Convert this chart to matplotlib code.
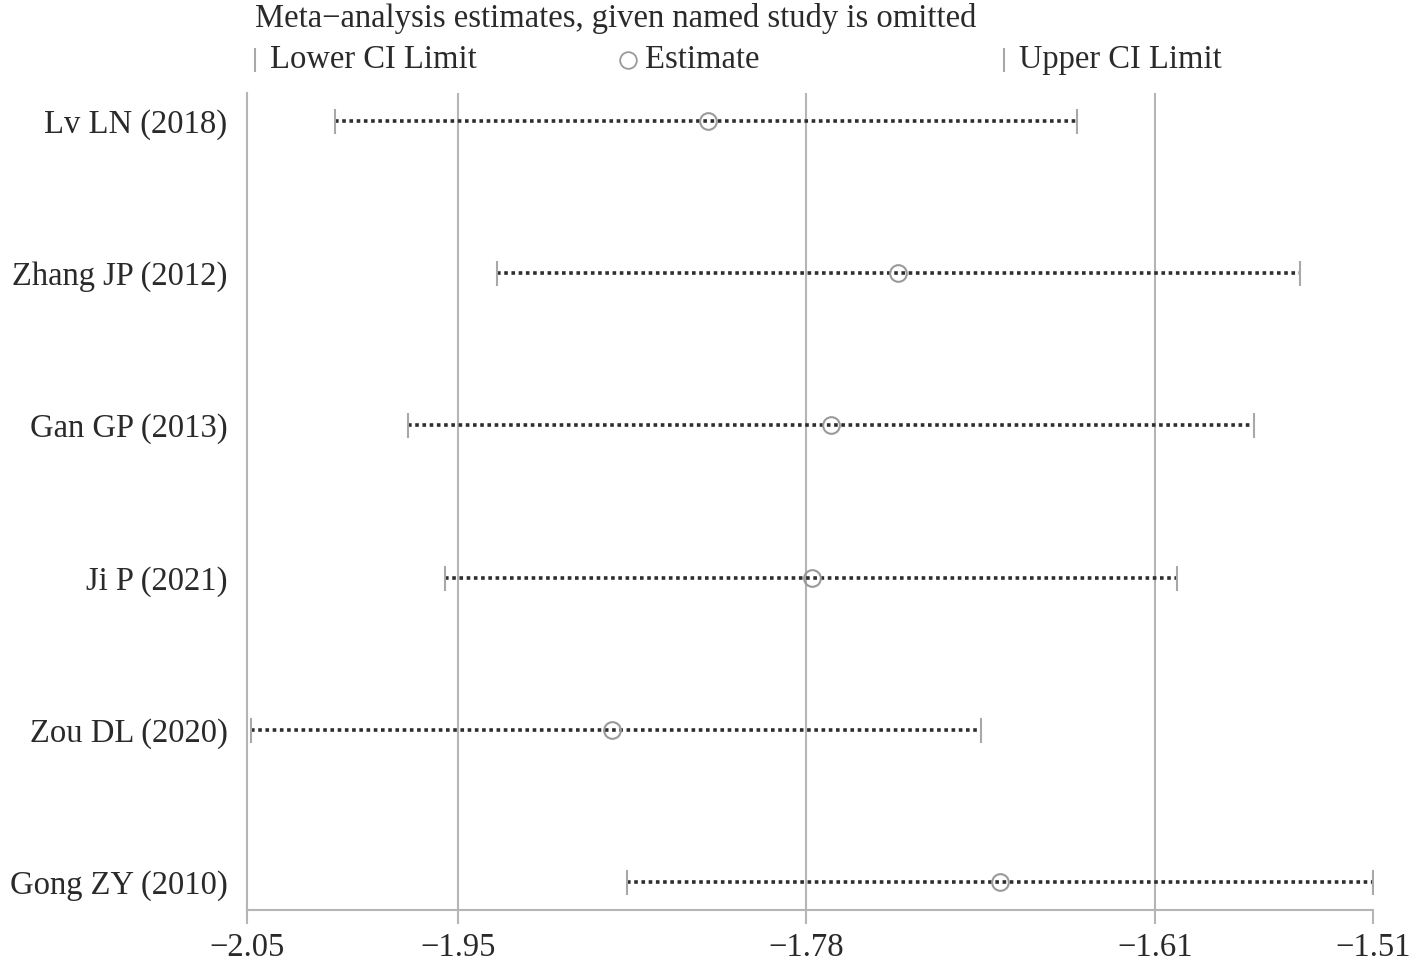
import matplotlib.pyplot as plt
from matplotlib.lines import Line2D

plt.rcParams['font.family'] = ['Liberation Serif', 'DejaVu Serif']

studies = ['Lv LN (2018)', 'Zhang JP (2012)', 'Gan GP (2013)',
           'Ji P (2021)', 'Zou DL (2020)', 'Gong ZY (2010)']
estimate = [-1.829, -1.738, -1.770, -1.779, -1.875, -1.689]
lower_ci = [-2.008, -1.930, -1.973, -1.955, -2.048, -1.868]
upper_ci = [-1.652, -1.545, -1.567, -1.604, -1.698, -1.510]

tick_pos = [-2.05, -1.949, -1.782, -1.6145, -1.51]
tick_lab = ['\u22122.05', '\u22121.95', '\u22121.78', '\u22121.61', '\u22121.51']

W, H = 1417, 963
fs = 23.5
txt = '#2a2a2a'
fig = plt.figure(figsize=(W / 100, H / 100), dpi=100)
ax = fig.add_axes([247 / W, 1 - 910 / H, (1373 - 247) / W, (910 - 93) / H])

grey = '#b5b5b5'
for xv in tick_pos[1:4]:
    ax.axvline(xv, color=grey, lw=1.5, zorder=0)

ys = list(range(len(studies)))
for y, lo, hi, est in zip(ys, lower_ci, upper_ci, estimate):
    ax.plot([lo, hi], [y, y], color='#2e2e2e', lw=2.6,
            linestyle=(0, (1, 1.0)), solid_capstyle='butt', zorder=2)
    ax.plot([lo, hi], [y, y], ls='none', marker='|', ms=18, mew=1.5,
            color='#a8a8a8', zorder=3)
    ax.plot(est, y, ls='none', marker='o', ms=12, mfc='none', mew=1.5,
            mec='#9a9a9a', zorder=4)

ax.set_xlim(-2.05, -1.51)
ax.set_ylim(5 + 28 / 152, -28 / 152)
ax.set_yticks(ys)
ax.set_yticklabels(studies, fontsize=fs)
ax.set_xticks(tick_pos)
ax.set_xticklabels(tick_lab, fontsize=fs)
ax.tick_params(axis='y', length=0, pad=14, colors=txt)
ax.tick_params(axis='x', length=10, width=1.5, color=grey, pad=6,
               labelcolor=txt)
for s in ['top', 'right']:
    ax.spines[s].set_visible(False)
for s in ['left', 'bottom']:
    ax.spines[s].set_color(grey)
    ax.spines[s].set_linewidth(1.5)


def px(x, y):
    return x / W, 1 - y / H


fig.text(*px(255, 18), 'Meta\u2212analysis estimates, given named study is omitted',
         fontsize=fs, va='center', ha='left', color=txt)
legend_items = [(255, '|', 'Lower CI Limit'), (628, 'o', 'Estimate'),
                (1004, '|', 'Upper CI Limit')]
for x0, mk, lab in legend_items:
    fx, fy = px(x0, 60)
    if mk == 'o':
        fig.add_artist(Line2D([fx], [fy], marker='o', ms=12, mfc='none',
                              mew=1.3, mec='#9a9a9a', ls='none',
                              transform=fig.transFigure))
        tx = x0 + 17
    else:
        fig.add_artist(Line2D([fx], [fy], marker='|', ms=17, mew=1.5,
                              color='#a8a8a8', ls='none',
                              transform=fig.transFigure))
        tx = x0 + 15
    fig.text(*px(tx, 60), lab, fontsize=fs, va='center', ha='left',
             color=txt)

fig.savefig('out.png', dpi=100)
